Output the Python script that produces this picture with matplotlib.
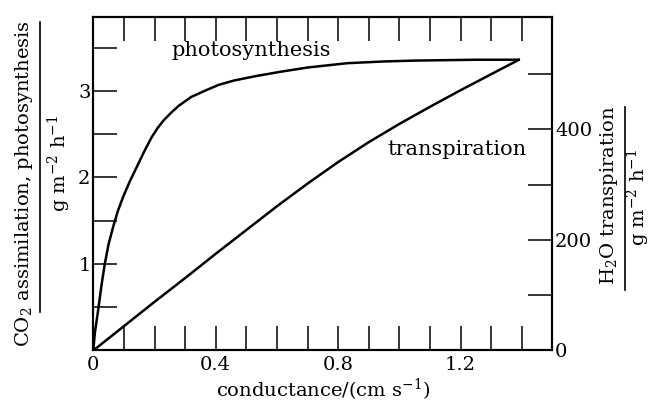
import matplotlib
matplotlib.use('Agg')
import matplotlib.pyplot as plt
from matplotlib.lines import Line2D

plt.rcParams['font.family'] = 'DejaVu Serif'
plt.rcParams['mathtext.fontset'] = 'dejavuserif'

# photosynthesis (left axis, g m-2 h-1)
photo_x = [0, 0.005, 0.016, 0.027, 0.038, 0.05, 0.065, 0.08, 0.098, 0.12, 0.142, 0.165, 0.19, 0.21, 0.23,
           0.255, 0.28, 0.32, 0.37, 0.41, 0.46, 0.53, 0.61, 0.7, 0.83, 0.95, 1.05, 1.15, 1.25, 1.39]
photo_y = [0, 0.2, 0.47, 0.76, 1.01, 1.23, 1.43, 1.61, 1.78, 1.96, 2.12, 2.29, 2.46, 2.57, 2.66,
           2.75, 2.83, 2.93, 3.01, 3.07, 3.12, 3.17, 3.22, 3.27, 3.32, 3.34, 3.35, 3.355, 3.36, 3.36]

# transpiration (right axis, g m-2 h-1)
trans_x = [0, 0.1, 0.2, 0.3, 0.4, 0.5, 0.6, 0.7, 0.8, 0.9, 1.0, 1.1, 1.2, 1.3, 1.39]
trans_y = [0, 44, 88, 131, 175, 218, 261, 302, 341, 377, 410, 441, 471, 500, 526]

xticks = [0, 0.4, 0.8, 1.2]
xticklabels = ['0', '0.4', '0.8', '1.2']
lticks = [1, 2, 3]
rticks = [0, 200, 400]

fig = plt.figure(figsize=(6.52, 4.03), dpi=100)
ax = fig.add_axes([0.1431, 0.1303, 0.7040, 0.8267])
ax2 = ax.twinx()

ax.plot(photo_x, photo_y, color='black', lw=1.8)
ax2.plot(trans_x, trans_y, color='black', lw=1.8)

ax.set_xlim(0, 1.5)
ax.set_ylim(0, 3.85)
ax2.set_ylim(0, 603)

ax.set_xticks([i / 10 for i in range(1, 15)], minor=True)
ax.set_xticks(xticks)
ax.set_xticklabels(xticklabels)
ax.set_yticks([i / 2 for i in range(1, 8)], minor=True)
ax.set_yticks(lticks)
ax2.set_yticks([100 * i for i in range(1, 6)], minor=True)
ax2.set_yticks(rticks)

ax.tick_params(axis='both', which='both', direction='in', length=17, width=1.1,
               labelsize=14, top=True)
ax.tick_params(axis='x', which='major', pad=4)
ax.tick_params(axis='y', which='major', pad=2)
ax2.tick_params(axis='y', which='both', direction='in', length=17, width=1.1,
                labelsize=14, pad=2)
for a in (ax, ax2):
    for s in a.spines.values():
        s.set_linewidth(1.5)

ax.text(0.515, 3.47, 'photosynthesis', fontsize=15, ha='center', va='center')
ax2.text(1.188, 364, 'transpiration', fontsize=15, ha='center', va='center')

ax.set_xlabel(r'conductance/(cm s$^{-1}$)', fontsize=14, labelpad=2)

# left axis label as a fraction
fig.text(0.037, 0.545, r'CO$_2$ assimilation, photosynthesis', rotation=90,
         fontsize=14, ha='center', va='center')
fig.add_artist(Line2D([0.062, 0.062], [0.226, 0.945], color='black', lw=1.2))
fig.text(0.091, 0.595, r'g m$^{-2}$ h$^{-1}$', rotation=90,
         fontsize=14, ha='center', va='center')

# right axis label as a fraction
fig.text(0.934, 0.515, r'H$_2$O transpiration', rotation=90,
         fontsize=14, ha='center', va='center')
fig.add_artist(Line2D([0.958, 0.958], [0.28, 0.735], color='black', lw=1.2))
fig.text(0.979, 0.51, r'g m$^{-2}$ h$^{-1}$', rotation=90,
         fontsize=14, ha='center', va='center')

fig.savefig('out.png', dpi=100)
